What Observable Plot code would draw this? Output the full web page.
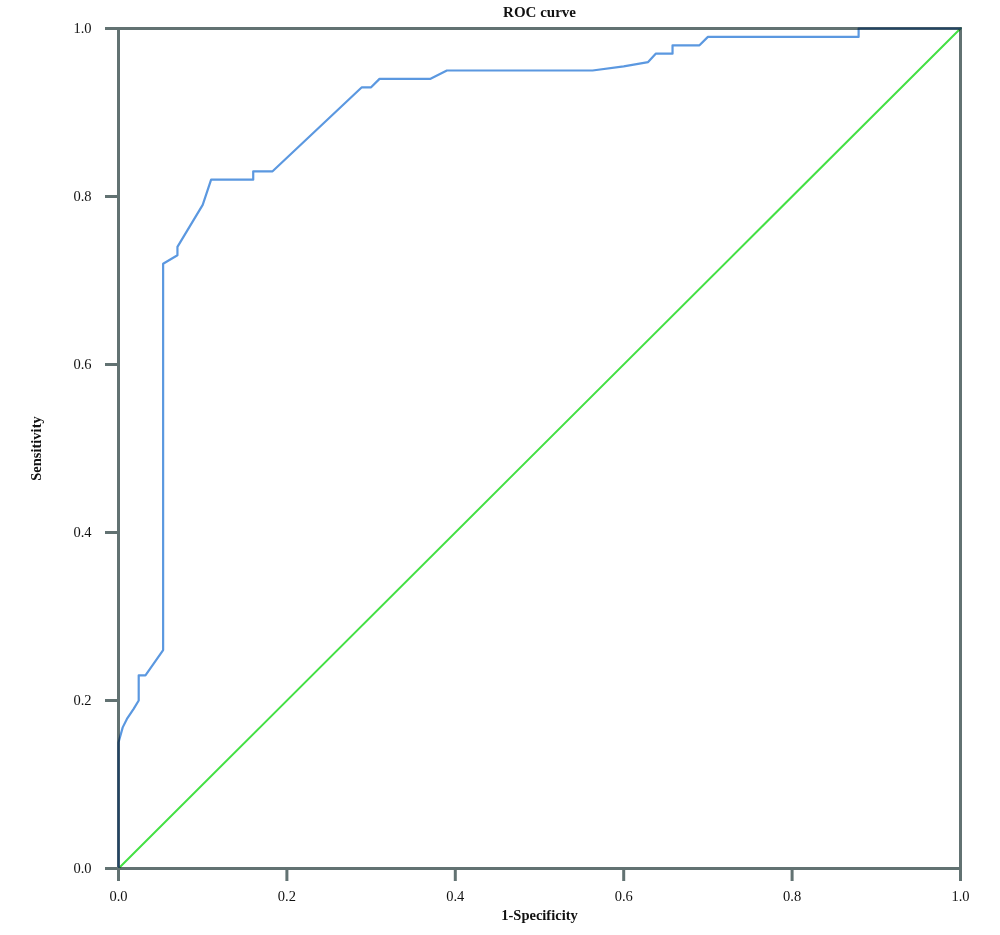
<!DOCTYPE html>
<html>
<head>
<meta charset="utf-8">
<script src="https://cdn.jsdelivr.net/npm/d3@7"></script>
<script src="https://cdn.jsdelivr.net/npm/@observablehq/plot@0.6"></script>
<style>
  html, body { margin: 0; padding: 0; background: #fff; }
  #chart svg { display: block; }
  #chart [aria-label="x-axis label"] text, #chart [aria-label="y-axis label"] text { font-weight: bold; }
</style>
</head>
<body>
<div id="chart"></div>
<script>
const title = "ROC curve";
const xLabel = "1-Specificity";
const yLabel = "Sensitivity";
const ticks = [0, 0.2, 0.4, 0.6, 0.8, 1.0];

// ROC curve points (1-Specificity, Sensitivity)
const fpr = [0, 0, 0.005, 0.01, 0.018, 0.024, 0.024, 0.032, 0.053, 0.053,
             0.07, 0.07, 0.1, 0.11, 0.16, 0.16, 0.183, 0.289, 0.30, 0.31,
             0.37, 0.39, 0.563, 0.6, 0.629, 0.638, 0.658, 0.658, 0.69, 0.70,
             0.879, 0.879, 1.0];
const tpr = [0, 0.15, 0.168, 0.178, 0.19, 0.2, 0.23, 0.23, 0.26, 0.72,
             0.73, 0.74, 0.79, 0.82, 0.82, 0.83, 0.83, 0.93, 0.93, 0.94,
             0.94, 0.95, 0.95, 0.955, 0.96, 0.97, 0.97, 0.98, 0.98, 0.99,
             0.99, 1.0, 1.0];
// reference (chance) line
const refX = [0, 1];
const refY = [0, 1];

const roc = fpr.map((x, i) => ({x, y: tpr[i]}));
const ref = refX.map((x, i) => ({x, y: refY[i]}));

const frameColor = "#627272";
const font = "'Liberation Serif', 'DejaVu Serif', serif";

const chart = Plot.plot({
  width: 1000,
  height: 935,
  marginLeft: 118,
  marginRight: 40,
  marginTop: 28,
  marginBottom: 67,
  style: {fontFamily: font, fontSize: "14.5px", color: "#111", background: "#fff"},
  x: {domain: [0, 1]},
  y: {domain: [0, 1]},
  marks: [
    Plot.line(ref, {x: "x", y: "y", stroke: "#44e044", strokeWidth: 2}),
    Plot.line(roc, {x: "x", y: "y", stroke: "#5b98e0", strokeWidth: 2.2}),
    Plot.frame({stroke: frameColor, strokeWidth: 3, mixBlendMode: "multiply"}),
    Plot.axisX({ticks, tickFormat: d3.format(".1f"), tickSize: 13, tickPadding: 9,
      stroke: frameColor, strokeWidth: 3, fill: "#111",
      label: xLabel, labelAnchor: "center", labelArrow: "none", labelOffset: 51}),
    Plot.axisY({ticks, tickFormat: d3.format(".1f"), tickSize: 13, tickPadding: 14,
      stroke: frameColor, strokeWidth: 3, fill: "#111",
      label: yLabel, labelAnchor: "center", labelArrow: "none", labelOffset: 88}),
    Plot.text([title], {frameAnchor: "top", dy: -22, text: d => d, fontWeight: "bold", fontSize: 15, fill: "#111"})
  ]
});
document.getElementById("chart").appendChild(chart);
</script>
</body>
</html>
